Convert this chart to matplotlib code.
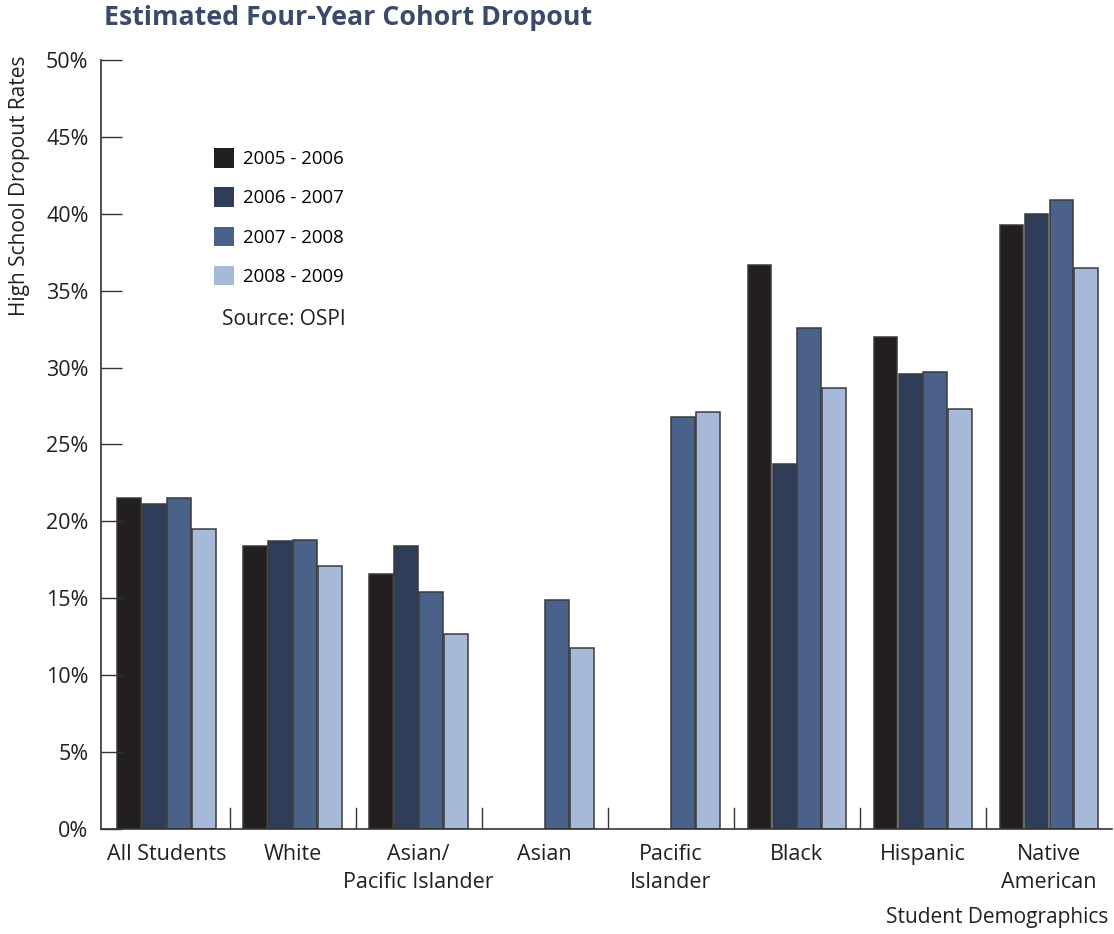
import matplotlib.pyplot as plt
import numpy as np

## Data (percent)
groups = ['All Students', 'White', 'Asian/\nPacific Islander', 'Asian',
          'Pacific\nIslander', 'Black', 'Hispanic', 'Native\nAmerican']
years = ['2005 - 2006', '2006 - 2007', '2007 - 2008', '2008 - 2009']
y2005 = [21.5, 18.4, 16.6, np.nan, np.nan, 36.7, 32.0, 39.3]
y2006 = [21.1, 18.7, 18.4, np.nan, np.nan, 23.7, 29.6, 40.0]
y2007 = [21.5, 18.8, 15.4, 14.9, 26.8, 32.6, 29.7, 40.9]
y2008 = [19.5, 17.1, 12.7, 11.8, 27.1, 28.7, 27.3, 36.5]
colors = ['#231f20', '#2f3d58', '#4a6189', '#a7b9d9']

plt.rcParams['font.family'] = ['Open Sans', 'DejaVu Sans']

fig = plt.figure(figsize=(11.14, 9.34), dpi=100)
ax = fig.add_axes([0.0907, 0.1124, 0.9073, 0.8234])

x = np.arange(len(groups))
pitch = 0.198
width = 0.186
for i, (vals, c, lab) in enumerate(zip([y2005, y2006, y2007, y2008], colors, years)):
    ax.bar(x + (i - 1.5) * pitch, vals, width, color=c, edgecolor='#3a3a3a',
           linewidth=1.1, label=lab)

ax.set_xlim(-0.52, 7.5)
ax.set_ylim(0, 50)
ax.set_yticks(range(0, 51, 5))
ax.set_yticklabels([f'{v}%' for v in range(0, 51, 5)], fontsize=15.5, color='#231f20')
ax.tick_params(axis='y', direction='in', length=15, width=1, color='#333333', pad=9)

ax.set_xticks(x)
ax.set_xticklabels(groups, fontsize=15.5, color='#231f20', linespacing=1.45)
ax.tick_params(axis='x', length=0, pad=11)

## group separators rising from the bottom axis
for s in np.arange(0.5, 7.5, 1):
    ax.plot([s, s], [0, 1.35], color='#333333', linewidth=1)

for side in ['top', 'right']:
    ax.spines[side].set_visible(False)
for side in ['left', 'bottom']:
    ax.spines[side].set_color('#333333')
    ax.spines[side].set_linewidth(1.2)

handles, labels = ax.get_legend_handles_labels()
leg = fig.legend(handles, labels, loc='upper left',
                 bbox_to_anchor=(214 / 1114, 1 - 148 / 934), frameon=False,
                 fontsize=13.4, handlelength=1.08, handleheight=1.25,
                 labelspacing=1.03, handletextpad=0.5, borderpad=0,
                 borderaxespad=0)
for h in leg.legend_handles:
    h.set_edgecolor('none')

fig.text(222 / 1114, 1 - 320 / 934, 'Source: OSPI', fontsize=15, color='#231f20',
         va='center', ha='left')

fig.text(104 / 1114, 1 - 18 / 934, 'Estimated Four-Year Cohort Dropout',
         fontsize=19.3, fontweight='bold', color='#3a4a68', va='center', ha='left')
fig.text(20 / 1114, 1 - 55 / 934, 'High School Dropout Rates', rotation=90,
         fontsize=15, color='#231f20', va='top', ha='center')
fig.text(1108 / 1114, 1 - 918 / 934, 'Student Demographics', fontsize=15,
         color='#231f20', va='center', ha='right')

plt.savefig('out.png', dpi=100)
